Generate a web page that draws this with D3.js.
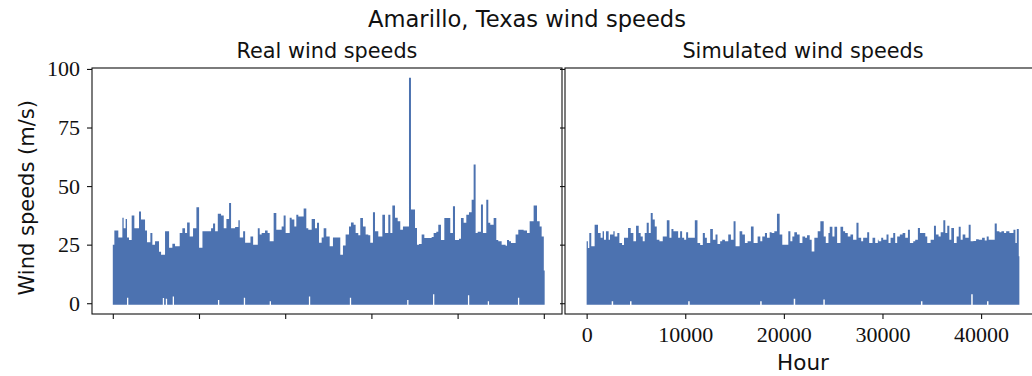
<!DOCTYPE html>
<html>
<head>
<meta charset="utf-8">
<script src="https://cdn.jsdelivr.net/npm/d3@7"></script>
<style>
  body { margin: 0; background: #fff; }
  .sans { font-family: "DejaVu Sans", sans-serif; fill: #111; }
  .tick text { font-family: "Liberation Serif", serif; font-size: 22px; fill: #111; }
  .tick line { stroke: #111; stroke-width: 1.1; }
</style>
</head>
<body>
<svg id="chart" width="1032" height="376"></svg>
<script>
/* step starts (hour) and the peak wind speed read for each step */
var realHours = [0, 180, 640, 1110, 1260, 1490, 1650, 1880, 2190, 2500, 3040, 3270, 3740, 3970, 4360, 4590, 4900, 5360, 5600, 6060,
  6530, 6910, 7220, 7760, 8070, 8380, 8620, 8920, 9310, 9700, 10010, 10400, 11400, 11630, 11870, 12180, 12560, 12870, 13180, 13490,
  13720, 14190, 14570, 14730, 15120, 15350, 15970, 16280, 16820, 17040, 17270, 17660, 17960, 18200, 18660, 18970, 19590, 19820, 20050, 20520,
  20750, 21060, 21290, 21520, 22140, 22450, 22680, 23070, 23460, 23690, 23920, 24230, 24460, 24770, 25160, 25540, 26390, 26700, 27010, 27400,
  27630, 27940, 28170, 28480, 28710, 29020, 29330, 29640, 29870, 30180, 30420, 30800, 31270, 31580, 31960, 32200, 32430, 32740, 33050, 33350,
  33660, 34360, 34590, 35060, 35290, 35520, 35830, 36140, 36990, 37220, 37530, 37760, 38070, 38460, 39150, 39460, 39700, 40160, 40390, 40700,
  41010, 41320, 41630, 41860, 42090, 42330, 42710, 42940, 43330, 43560, 43790, 44180, 44490, 44720, 45110, 45570, 45730, 45960, 46190, 46730,
  47040, 47660, 48050, 48360, 48820, 49210, 49520, 49750, 50000];
var realPeaks = [25, 31, 28, 36.5, 32, 36, 28, 27, 37.4, 32, 39.2, 35.7, 31, 26, 30, 25, 26.4, 22, 20.7, 30.7,
  23.7, 25.4, 24.3, 30, 32, 30, 34.5, 28.5, 32, 41, 23.7, 30.7, 32, 34, 30.7, 38.2, 37.4, 32, 36, 42.8,
  32, 32.5, 35.4, 28, 30.7, 25.8, 28.5, 25, 32, 29.3, 30, 31, 30, 26.4, 38.5, 31.4, 32.8, 37.4, 30, 36.5,
  35.7, 32.8, 37.8, 37, 40.4, 32, 31.4, 36, 32, 34.3, 25.8, 28, 32, 28.5, 24.3, 28, 20.7, 24.6, 29.3, 32.8,
  34.5, 33.5, 30, 29, 36.4, 32.8, 29.3, 29, 25.8, 38.8, 30.7, 28.5, 37.8, 30, 37.8, 30, 41.7, 36.5, 35, 31.4,
  32.8, 96.2, 40, 32.1, 25, 25.3, 29.3, 27.8, 28.3, 30, 30.5, 33.5, 27, 36.4, 30, 41.4, 27, 27.5, 36.4, 34.3,
  37.8, 38.8, 44.2, 59.2, 30, 30.5, 42.1, 30, 44.2, 34.3, 33.5, 36.4, 27, 26.5, 25, 24.5, 27, 26.5, 25.7, 29.3,
  31.4, 31, 30, 35, 41.7, 35, 32.8, 28.5, 14];
var realEnd = 50100;

var simHours = [0, 130, 270, 470, 810, 1150, 1420, 1620, 1760, 1960, 2230, 2370, 2710, 2840, 3110, 3320, 3590, 3790, 4200, 4470,
  4740, 5010, 5280, 5480, 5690, 5890, 6090, 6300, 6500, 6700, 6910, 7110, 7380, 7720, 8130, 8400, 8600, 8800, 9280, 9480,
  9680, 9890, 10090, 10290, 10970, 11240, 11510, 11780, 11990, 12190, 12530, 12800, 13070, 13270, 13540, 13750, 14020, 14360, 14630, 14900,
  15100, 15510, 15780, 16050, 16320, 16660, 16930, 17340, 17610, 17810, 18080, 18290, 18560, 18760, 19030, 19300, 19570, 19840, 20450, 20660,
  20860, 21060, 21330, 21600, 21880, 22150, 22350, 22620, 22820, 23090, 23430, 23700, 24040, 24250, 24520, 24650, 24920, 25130, 25400, 25740,
  26010, 26210, 26480, 26750, 27020, 27360, 27570, 27840, 28040, 28450, 28650, 28990, 29260, 29530, 29600, 29870, 30070, 30410, 30610, 30820,
  31090, 31290, 31490, 31760, 32040, 32310, 32580, 32780, 33120, 33320, 33590, 33800, 34070, 34340, 34540, 34880, 35220, 35420, 35690, 35900,
  36170, 36370, 36570, 36780, 36980, 37250, 37520, 37730, 37930, 38130, 38400, 38740, 38940, 39220, 39490, 39760, 40100, 40370, 40570, 40770,
  41380, 41590, 41860, 42060, 42330, 42540, 42870, 43280, 43480, 43620, 43820];
var simPeaks = [26.4, 23.6, 30, 24.3, 33.5, 30, 27.9, 30.7, 27.1, 30.7, 27.1, 29.3, 30.7, 28.5, 30, 25.7, 24.8, 27.9, 32.1, 30,
  26.4, 33.1, 30, 28.5, 26.4, 30, 34.3, 30, 38.5, 35.7, 32.8, 27.1, 26.4, 28.5, 35.4, 27.9, 31.7, 30.7, 27.9, 30.7,
  27.9, 27.1, 30.3, 27.9, 35.4, 25.7, 24.8, 30, 27.9, 25.7, 31.7, 27.1, 29.3, 25.3, 26.4, 27.1, 26.4, 29.3, 27.1, 35,
  24.3, 30.7, 29.3, 25.7, 26.4, 32.8, 25.7, 28.5, 26.4, 28.5, 30, 27.9, 30.3, 30, 30.7, 38.2, 29.3, 25, 30.7, 26.4,
  28.5, 30.3, 29.3, 25.7, 28.5, 27.9, 29, 27.1, 22.1, 27.9, 30.7, 35, 28.5, 25.7, 30, 32.6, 28.5, 32.6, 25.7, 32.6,
  30.7, 30, 28.5, 29.3, 27.1, 34.3, 27.9, 26.4, 27.9, 30.3, 25.7, 27.9, 25.7, 27.1, 26.4, 27.9, 27.1, 29.3, 25.7, 27.9,
  30, 25.7, 28.5, 29.3, 30, 27.9, 31.4, 25.7, 26.4, 27.1, 32.1, 30, 30, 28.5, 25.7, 27.1, 33.1, 29.3, 28.5, 30.3,
  35.4, 30, 33.1, 27.1, 32.1, 25.7, 28.5, 32.6, 27.1, 29.3, 27.9, 33.5, 26.4, 26.6, 27.3, 27.1, 27.9, 26.8, 28.5, 27.1,
  34, 30.7, 30.3, 30.7, 30, 30.7, 30, 31.4, 25.7, 31.7, 20];
var simEnd = 43880;

/* short stretches where the lowest speed stays above zero */
var realCalmHours = [1650, 5800, 6150, 6950, 12200, 15200, 18200, 22750, 27500, 34150, 37150, 41200, 43500, 47000];
var realCalmValues = [3, 2.9, 2.5, 3.5, 2, 3, 1.5, 3.5, 3, 2, 4.5, 4, 1.5, 3];
var simCalmHours = [2540, 4400, 10300, 17600, 21000, 24000, 33900, 39000, 40600];
var simCalmValues = [1.5, 1.5, 1.5, 1.5, 2.6, 2.2, 1.5, 4.5, 1.5];
var calmSpan = 150;

var realTicks = [0, 10000, 20000, 30000, 40000, 50000];
var simTicks = [0, 10000, 20000, 30000, 40000];
var speedTicks = [0, 25, 50, 75, 100];

var svg = d3.select('#chart');
var top_ = 68, bottom = 314;
var blue = '#4c72b0';

var y = d3.scaleLinear().domain([-4.6, 100.4]).range([bottom, top_]);

var steps = function(hours, peaks, calmHours, calmValues, end){
  var cuts = new Set(hours.concat([end]));
  calmHours.forEach(function(h){ cuts.add(h); cuts.add(h + calmSpan); });
  return Array.from(cuts).sort(d3.ascending).map(function(h){
    var i = Math.max(0, d3.bisectRight(hours, h) - 1);
    var j = d3.bisectRight(calmHours, h) - 1;
    var lo = (j >= 0 && h < calmHours[j] + calmSpan) ? calmValues[j] : 0;
    return { h: h, lo: lo, hi: peaks[i] };
  });
};

var panel = function(opts){
  var x = d3.scaleLinear().domain(opts.domain).range([opts.left, opts.right]);
  var g = svg.append('g');
  var data = steps(opts.hours, opts.peaks, opts.calmHours, opts.calmValues, opts.end);

  g.append('path')
    .datum(data)
    .attr('fill', blue)
    .attr('d', d3.area()
      .curve(d3.curveStepAfter)
      .x(function(d){ return x(d.h); })
      .y0(function(d){ return y(d.lo) + 1.5; })
      .y1(function(d){ return y(d.hi); }));

  var xAxis = d3.axisBottom(x).tickValues(opts.ticks).tickSize(5).tickSizeOuter(0).tickPadding(7)
    .tickFormat(opts.xLabels ? d3.format('d') : '');
  g.append('g').attr('transform', 'translate(0,' + bottom + ')').call(xAxis)
    .call(function(a){ a.select('.domain').remove(); });

  var yAxis = d3.axisLeft(y).tickValues(speedTicks).tickSize(5).tickSizeOuter(0).tickPadding(7)
    .tickFormat(opts.yLabels ? d3.format('d') : '');
  g.append('g').attr('transform', 'translate(' + opts.left + ',0)').call(yAxis)
    .call(function(a){ a.select('.domain').remove(); });

  g.append('rect')
    .attr('x', opts.left).attr('y', top_)
    .attr('width', opts.right - opts.left).attr('height', bottom - top_)
    .attr('fill', 'none').attr('stroke', '#111').attr('stroke-width', 1.1);

  g.append('text').attr('class', 'sans')
    .attr('x', (opts.left + opts.right) / 2).attr('y', 58)
    .attr('text-anchor', 'middle').style('font-size', '20.8px')
    .text(opts.title);
};

panel({
  title: 'Real wind speeds', left: 92, right: 562, domain: [-2413, 52111],
  hours: realHours, peaks: realPeaks, calmHours: realCalmHours, calmValues: realCalmValues, end: realEnd,
  ticks: realTicks, xLabels: false, yLabels: true
});

panel({
  title: 'Simulated wind speeds', left: 565, right: 1041, domain: [-2194, 46074],
  hours: simHours, peaks: simPeaks, calmHours: simCalmHours, calmValues: simCalmValues, end: simEnd,
  ticks: simTicks, xLabels: true, yLabels: false
});

svg.append('text').attr('class', 'sans')
  .attr('x', 527).attr('y', 27).attr('text-anchor', 'middle')
  .style('font-size', '22.6px')
  .text('Amarillo, Texas wind speeds');

svg.append('text').attr('class', 'sans')
  .attr('x', 803).attr('y', 370).attr('text-anchor', 'middle')
  .style('font-size', '21.5px')
  .text('Hour');

svg.append('text').attr('class', 'sans')
  .attr('transform', 'translate(34,' + y(45) + ') rotate(-90)')
  .attr('text-anchor', 'middle')
  .style('font-size', '21px')
  .text('Wind speeds (m/s)');
</script>
</body>
</html>
